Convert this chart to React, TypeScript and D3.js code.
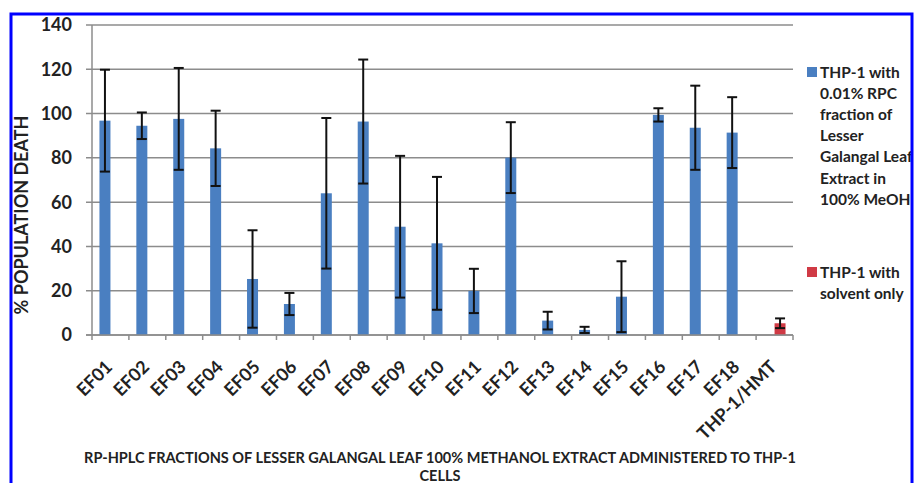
import React from "react";
import * as d3 from "d3";

const categories = ["EF01","EF02","EF03","EF04","EF05","EF06","EF07","EF08","EF09","EF10","EF11","EF12","EF13","EF14","EF15","EF16","EF17","EF18","THP-1/HMT"];
const extractValues: (number | null)[] = [96.8,94.5,97.6,84.3,25.3,14,64,96.4,48.9,41.4,19.9,80.1,6.5,2.3,17.3,99.4,93.6,91.4,null];
const extractErrors: (number | null)[] = [23,6,23,17,22,5,34,28,32,30,10,16,4,1.4,16,3,19,16,null];
const solventValues: (number | null)[] = [null,null,null,null,null,null,null,null,null,null,null,null,null,null,null,null,null,null,5.3];
const solventErrors: (number | null)[] = [null,null,null,null,null,null,null,null,null,null,null,null,null,null,null,null,null,null,2.2];
const yTicks = [0,20,40,60,80,100,120,140];
const legend1Lines = ["THP-1 with","0.01% RPC","fraction of","Lesser","Galangal Leaf","Extract in","100% MeOH"];
const legend2Lines = ["THP-1 with","solvent only"];
const yTitle = "% POPULATION DEATH";
const xTitle1 = "RP-HPLC FRACTIONS OF LESSER GALANGAL LEAF 100% METHANOL EXTRACT ADMINISTERED TO THP-1";
const xTitle2 = "CELLS";

const BLUE = "#4a7fc1";
const RED = "#d03a45";
const FONT = "Lato, 'Open Sans', sans-serif";

export default function App() {
  const left = 92, right = 793, top = 25, bottom = 335;
  const x = d3.scaleBand<string>().domain(categories).range([left, right]);
  const y = d3.scaleLinear().domain([0, 140]).range([bottom, top]);
  const bw = 11;

  const errBar = (cx: number, v: number, e: number, key: string) => {
    const y1 = y(v + e), y2 = y(Math.max(0, v - e));
    return (
      <g key={key} stroke="#111" strokeWidth={2}>
        <line x1={cx} x2={cx} y1={y1} y2={y2} />
        <line x1={cx - 5} x2={cx + 5} y1={y1} y2={y1} />
        <line x1={cx - 5} x2={cx + 5} y1={y2} y2={y2} />
      </g>
    );
  };

  return (
    <svg width={915} height={483} style={{ position: "absolute", left: 0, top: 0, background: "#fff" }} fontFamily={FONT}>
      <rect x={0} y={0} width={915} height={483} fill="#fff" />
      {yTicks.map(t => (
        <g key={"g" + t}>
          <line x1={86} x2={right} y1={y(t)} y2={y(t)} stroke="#8c8c8c" strokeWidth={1.5} />
          <text x={72} y={y(t)} dy="0.36em" textAnchor="end" fontSize={18} fontWeight={700} fill="#222">{t}</text>
        </g>
      ))}
      <line x1={left} x2={left} y1={top} y2={bottom} stroke="#8c8c8c" strokeWidth={1.5} />
      {categories.map((c, i) => (
        <line key={"t" + i} x1={x(c)!} x2={x(c)!} y1={bottom} y2={bottom + 5} stroke="#8c8c8c" strokeWidth={1.5} />
      ))}
      <line x1={right} x2={right} y1={bottom} y2={bottom + 5} stroke="#8c8c8c" strokeWidth={1.5} />
      {categories.map((c, i) => {
        const cx = x(c)! + x.bandwidth() / 2;
        const v = extractValues[i];
        if (v == null) return null;
        return <rect key={"b" + i} x={cx - bw} y={y(v)} width={bw} height={bottom - y(v)} fill={BLUE} />;
      })}
      {categories.map((c, i) => {
        const cx = x(c)! + x.bandwidth() / 2;
        const v = solventValues[i];
        if (v == null) return null;
        return <rect key={"r" + i} x={cx} y={y(v)} width={bw} height={bottom - y(v)} fill={RED} />;
      })}
      {categories.map((c, i) => {
        const cx = x(c)! + x.bandwidth() / 2;
        const v = extractValues[i], e = extractErrors[i];
        if (v == null || e == null) return null;
        return errBar(cx - bw / 2, v, e, "e" + i);
      })}
      {categories.map((c, i) => {
        const cx = x(c)! + x.bandwidth() / 2;
        const v = solventValues[i], e = solventErrors[i];
        if (v == null || e == null) return null;
        return errBar(cx + bw / 2, v, e, "s" + i);
      })}
      <line x1={86} x2={right} y1={bottom} y2={bottom} stroke="#8c8c8c" strokeWidth={1.5} />
      {categories.map((c, i) => {
        const cx = x(c)! + x.bandwidth() / 2;
        return (
          <text key={"l" + i} transform={`translate(${cx + 3},${bottom + 33}) rotate(-45)`} textAnchor="end" fontSize={18} fontWeight={700} fill="#222">{c}</text>
        );
      })}
      <text transform={`translate(28,215) rotate(-90)`} textAnchor="middle" fontSize={18} fontWeight={700} fill="#222">{yTitle}</text>
      <text x={440} y={463} textAnchor="middle" fontSize={14.5} fontWeight={700} fill="#222">{xTitle1}</text>
      <text x={440} y={481} textAnchor="middle" fontSize={14.5} fontWeight={700} fill="#222">{xTitle2}</text>
      <rect x={807} y={67} width={10} height={10} fill={BLUE} />
      {legend1Lines.map((l, i) => (
        <text key={"lg1" + i} x={820} y={72 + i * 21.2} dy="0.36em" fontSize={15.5} fontWeight={700} fill="#222">{l}</text>
      ))}
      <rect x={807} y={267} width={10} height={10} fill={RED} />
      {legend2Lines.map((l, i) => (
        <text key={"lg2" + i} x={820} y={272 + i * 21} dy="0.36em" fontSize={15.5} fontWeight={700} fill="#222">{l}</text>
      ))}
      <rect x={11} y={14} width={901} height={480} fill="none" stroke="#0000ff" strokeWidth={3} />
    </svg>
  );
}
